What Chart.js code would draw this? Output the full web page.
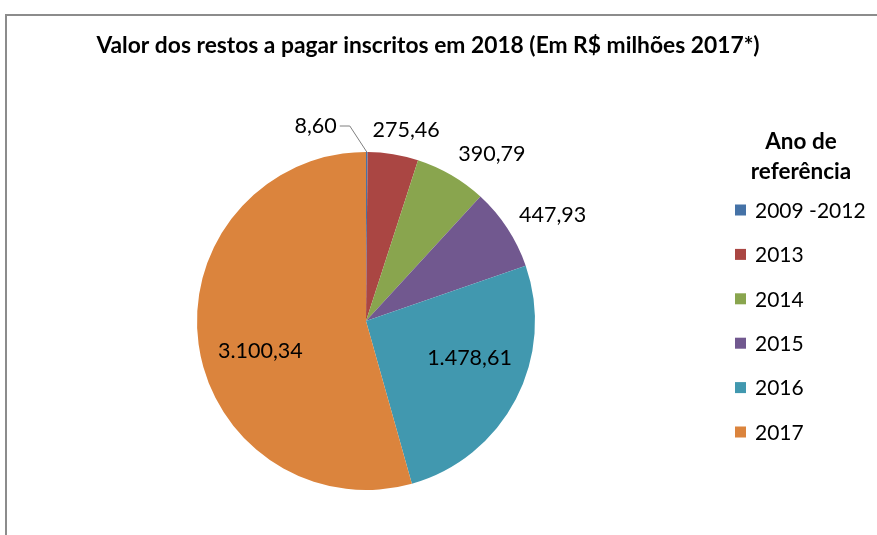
<!doctype html>
<html>

<head>
	<title>Restos a pagar inscritos em 2018</title>
	<script src="https://cdn.jsdelivr.net/npm/chart.js@4.4.1/dist/chart.umd.min.js"></script>
	<style>
	body {
		margin: 0;
		background: #fff;
	}
	.wrap {
		position: relative;
		width: 877px;
		height: 535px;
	}
	.frame {
		position: absolute;
		left: 5px;
		top: 14px;
		right: -10px;
		bottom: -10px;
		border-top: 2px solid #8c8c8c;
		border-left: 2px solid #8c8c8c;
	}
	canvas {
		position: absolute;
		left: 0;
		top: 0;
	}
	</style>
</head>

<body>
	<div class="wrap">
		<div class="frame"></div>
		<canvas id="chart" width="877" height="535"></canvas>
	</div>
	<script>
		var chartTitle = 'Valor dos restos a pagar inscritos em 2018 (Em R$ milhões 2017*)';
		var legendTitle = ['Ano de', 'referência'];
		var categories = ['2009 -2012', '2013', '2014', '2015', '2016', '2017'];
		var values = [8.60, 275.46, 390.79, 447.93, 1478.61, 3100.34];
		// which labels sit inside their slice
		var insideLabel = [false, false, false, false, true, true];
		var colors = ['#4572a7', '#aa4643', '#89a54e', '#71588f', '#4198af', '#db843d'];

		var FONT = 'Lato, "Open Sans", sans-serif';

		function formatBR(v) {
			var parts = v.toFixed(2).split('.');
			parts[0] = parts[0].replace(/\B(?=(\d{3})+(?!\d))/g, '.');
			return parts[0] + ',' + parts[1];
		}

		// title, legend and data labels drawn after the pie
		var decorations = {
			id: 'decorations',
			afterDraw: function(chart) {
				var ctx = chart.ctx;
				ctx.save();
				ctx.fillStyle = '#000';
				ctx.textBaseline = 'middle';

				// chart title
				ctx.font = 'bold 22.8px ' + FONT;
				ctx.textAlign = 'center';
				ctx.fillText(chartTitle, 428, 46);

				// legend
				ctx.font = 'bold 22.5px ' + FONT;
				legendTitle.forEach(function(line, i) {
					ctx.fillText(line, 801, 142 + i * 30);
				});
				ctx.font = '21px ' + FONT;
				ctx.textAlign = 'left';
				categories.forEach(function(name, i) {
					var y = 210 + i * 44.4;
					ctx.fillStyle = colors[i];
					ctx.fillRect(735, y - 5.5, 11, 11);
					ctx.fillStyle = '#000';
					ctx.fillText(name, 755, y + 1);
				});

				// data labels
				ctx.font = '21.5px ' + FONT;
				var arcs = chart.getDatasetMeta(0).data;
				arcs.forEach(function(arc, i) {
					var text = formatBR(values[i]);
					var mid = (arc.startAngle + arc.endAngle) / 2;
					var cos = Math.cos(mid), sin = Math.sin(mid);
					var w = ctx.measureText(text).width;
					ctx.textAlign = 'center';
					if (insideLabel[i]) {
						// inside labels sit a little counter-clockwise of the middle
						var a = mid - 0.14;
						var rIn = arc.outerRadius * 0.65;
						ctx.fillText(text, arc.x + Math.cos(a) * rIn, arc.y + Math.sin(a) * rIn);
					} else if (arc.endAngle - arc.startAngle < 0.05) {
						// tiny slice: leader line up and to the left
						var px = arc.x + cos * arc.outerRadius;
						var py = arc.y + sin * arc.outerRadius;
						var ex = px - 17, ey = py - 26;
						ctx.strokeStyle = '#7f7f7f';
						ctx.lineWidth = 1;
						ctx.beginPath();
						ctx.moveTo(px, py);
						ctx.lineTo(ex, ey);
						ctx.lineTo(ex - 10, ey);
						ctx.stroke();
						ctx.textAlign = 'right';
						ctx.fillText(text, ex - 13, ey);
					} else {
						var r = arc.outerRadius + 14;
						var ax = arc.x + cos * r, ay = arc.y + sin * r;
						var k = Math.min(1, cos * 2);
						ctx.fillText(text, ax + k * w / 2, ay + sin * 10);
					}
				});
				ctx.restore();
			}
		};

		window.onload = function() {
			var ctx = document.getElementById('chart').getContext('2d');
			new Chart(ctx, {
				type: 'pie',
				data: {
					labels: categories,
					datasets: [{
						data: values,
						backgroundColor: colors,
						borderWidth: 0
					}]
				},
				options: {
					responsive: false,
					animation: false,
					layout: {
						padding: { top: 152, bottom: 45, left: 197, right: 342 }
					},
					plugins: {
						legend: { display: false },
						tooltip: { enabled: false }
					}
				},
				plugins: [decorations]
			});
		};
	</script>
</body>

</html>
